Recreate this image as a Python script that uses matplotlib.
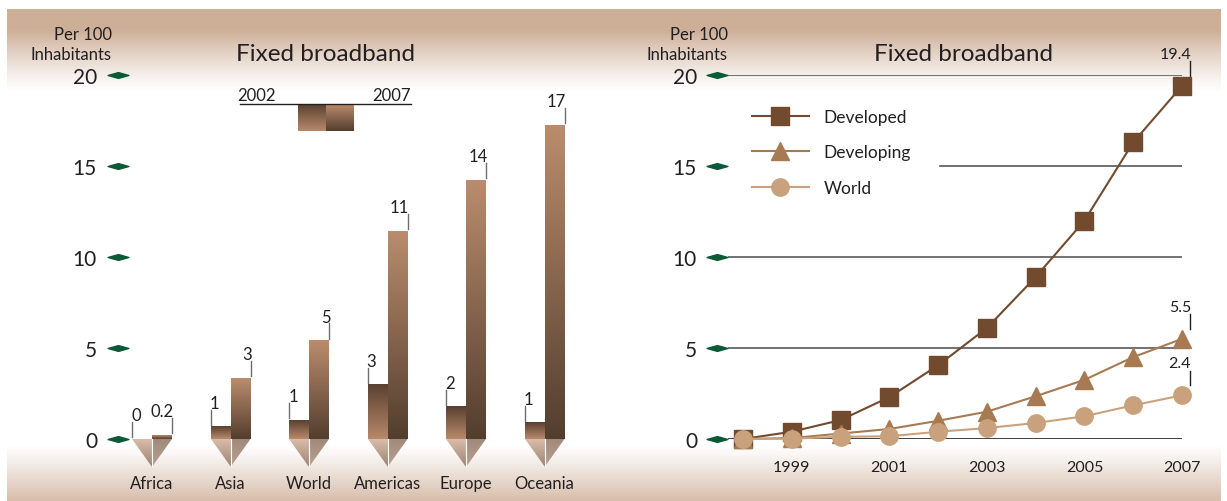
import numpy as np
import matplotlib
matplotlib.use("Agg")
import matplotlib.pyplot as plt
from matplotlib.path import Path
from matplotlib.patches import Polygon
from matplotlib.colors import to_rgb

plt.rcParams['font.family'] = ['Lato', 'DejaVu Sans']

# ---------------- data ----------------
regions = ["Africa", "Asia", "World", "Americas", "Europe", "Oceania"]
fb_2002 = [0.0, 0.66, 1.04, 2.97, 1.76, 0.88]
fb_2007 = [0.2, 3.35, 5.4, 11.4, 14.2, 17.25]
lbl_2002 = ["0", "1", "1", "3", "2", "1"]
lbl_2007 = ["0.2", "3", "5", "11", "14", "17"]

years = [1998, 1999, 2000, 2001, 2002, 2003, 2004, 2005, 2006, 2007]
developed = [0.0, 0.4, 1.04, 2.3, 4.05, 6.1, 8.9, 12.0, 16.3, 19.4]
developing = [0.0, 0.05, 0.3, 0.55, 1.0, 1.5, 2.35, 3.25, 4.5, 5.5]
world = [0.0, 0.02, 0.12, 0.15, 0.4, 0.6, 0.88, 1.25, 1.85, 2.4]
end_labels = ["19.4", "5.5", "2.4"]
series_names = ["Developed", "Developing", "World"]
xtick_years = [1999, 2001, 2003, 2005, 2007]
yticks = [0, 5, 10, 15, 20]

# ---------------- figure ----------------
W, H = 1227, 502
fig = plt.figure(figsize=(W / 100, H / 100), dpi=100)

def px_axes(left, top, right, bottom):
    return fig.add_axes([left / W, (H - bottom) / H, (right - left) / W, (bottom - top) / H])

# background bands
bg = fig.add_axes([0, 0, 1, 1], zorder=-10)
bg.set_axis_off()
img = np.ones((H, W, 3))
tan_top = np.array(to_rgb("#cdae97"))
tan_bot = np.array(to_rgb("#d8bfad"))
rows = np.arange(H)
a_top = np.clip((92 - rows) / (92 - 30), 0, 1) ** 1.2
a_top[rows < 10] = 0
a_bot = np.clip((rows - 446) / (500 - 446), 0, 1) ** 1.1
for r in range(H):
    if a_top[r] > 0:
        img[r, 7:1221] = (1 - a_top[r]) + a_top[r] * tan_top
    elif a_bot[r] > 0:
        img[r, 7:1221] = (1 - a_bot[r]) + a_bot[r] * tan_bot
bg.imshow(img, extent=(0, W, H, 0), aspect='auto', interpolation='bilinear')
bg.set_xlim(0, W)
bg.set_ylim(H, 0)

diamond = Path([(-1, 0), (0, 0.28), (1, 0), (0, -0.28), (-1, 0)],
               [Path.MOVETO, Path.LINETO, Path.LINETO, Path.LINETO, Path.CLOSEPOLY])
green = "#0b5a36"
txt = "#231f20"

def grad_img(c_top, c_bot, n=64):
    t = np.linspace(0, 1, n)[:, None]
    a, b = np.array(to_rgb(c_top)), np.array(to_rgb(c_bot))
    g = (1 - t) * a + t * b
    return g[:, None, :]

# ---------------- left chart ----------------
PX = 18.2  # px per unit
tri_depth = 28 / PX
axL = px_axes(128, 76, 580, 440 + 29)
axL.patch.set_visible(False)
ymin_L = -tri_depth - 1 / PX
axL.set_ylim(ymin_L, 20)
unit = 78.5
xminL = -(152 - 128) / unit
axL.set_xlim(xminL, xminL + 452 / unit)
for s in axL.spines.values():
    s.set_visible(False)

w = 20 / unit
x = np.arange(len(regions))
b02 = axL.bar(x - w / 2, fb_2002, w, color="#8a6650", linewidth=0)
b07 = axL.bar(x + w / 2, fb_2007, w, color="#8a6650", linewidth=0)
for patch in b02:
    x0, h = patch.get_x(), patch.get_height()
    if h > 0:
        axL.imshow(grad_img("#5a4131", "#b8896b"), extent=(x0, x0 + w, 0, h),
                   aspect='auto', clip_path=patch, zorder=3, interpolation='bilinear')
for patch in b07:
    x0, h = patch.get_x(), patch.get_height()
    if h > 0:
        axL.imshow(grad_img("#ba8c6d", "#533e2e"), extent=(x0, x0 + w, 0, h),
                   aspect='auto', clip_path=patch, zorder=3, interpolation='bilinear')

# pointed bases
for i in x:
    lp = Polygon([(i - w, 0), (i, 0), (i, -tri_depth)], closed=True,
                 transform=axL.transData, facecolor='none', edgecolor='none')
    rp = Polygon([(i, 0), (i + w, 0), (i, -tri_depth)], closed=True,
                 transform=axL.transData, facecolor='none', edgecolor='none')
    axL.add_patch(lp)
    axL.add_patch(rp)
    axL.imshow(grad_img("#d9bda9", "#9c8272"), extent=(i - w, i, -tri_depth, 0),
               aspect='auto', clip_path=lp, zorder=3, interpolation='bilinear')
    axL.imshow(grad_img("#a28a7b", "#b7a192"), extent=(i, i + w, -tri_depth, 0),
               aspect='auto', clip_path=rp, zorder=3, interpolation='bilinear')
    axL.plot([i, i], [0, -tri_depth * 0.98], color="white", lw=0.8, zorder=4)

# value labels with leader lines
lead = "#6d6e71"
for i in x:
    v = fb_2002[i]
    axL.plot([i - w, i - w], [v + 0.12, v + 0.95], color=lead, lw=1.0, zorder=4)
    axL.text(i - w - 0.01, v + 1.05, lbl_2002[i], ha='left', va='baseline',
             fontsize=12, color=txt)
    v = fb_2007[i]
    axL.plot([i + w, i + w], [v + 0.12, v + 0.95], color=lead, lw=1.0, zorder=4)
    axL.text(i + w + 0.02, v + 1.05, lbl_2007[i], ha='right', va='baseline',
             fontsize=12, color=txt)

axL.set_xticks(x)
axL.set_xticklabels(regions, fontsize=12, color=txt)
axL.set_yticks(yticks)
axL.set_yticklabels([str(t) for t in yticks], fontsize=15, color=txt)
axL.tick_params(axis='both', length=0)
axL.tick_params(axis='y', pad=(128 - 97) * 0.72)
axL.tick_params(axis='x', pad=5)
axL.plot(np.full(len(yticks), -(128 - 118) / 452), yticks, linestyle='none',
         marker=diamond, markersize=15, color=green, transform=axL.get_yaxis_transform(),
         clip_on=False)

bg.text(112, 40, "Per 100", ha='right', va='baseline', fontsize=12, color=txt)
bg.text(112, 60, "Inhabitants", ha='right', va='baseline', fontsize=12, color=txt)
bg.text(326, 61, "Fixed broadband", ha='center', va='baseline', fontsize=17.5, color=txt)

# small legend for years
bg.text(237, 101, "2002", ha='left', va='baseline', fontsize=12, color=txt)
bg.text(411, 101, "2007", ha='right', va='baseline', fontsize=12, color=txt)
bg.plot([240, 411], [105, 105], color=txt, lw=1.0)
bg.imshow(grad_img("#5a4131", "#b8896b"), extent=(298, 326, 132, 105),
          aspect='auto', interpolation='bilinear')
bg.imshow(grad_img("#ba8c6d", "#533e2e"), extent=(326, 354, 132, 105),
          aspect='auto', interpolation='bilinear')
bg.set_xlim(0, W)
bg.set_ylim(H, 0)

# ---------------- right chart ----------------
axR = px_axes(728, 76, 1182, 440)
axR.patch.set_visible(False)
axR.set_ylim(0, 20)
yr_px = (1182 - 743) / 9
xminR = 1998 - (743 - 728) / yr_px
axR.set_xlim(xminR, 2007)
for s in axR.spines.values():
    s.set_visible(False)

for t in [5, 10, 20]:
    axR.axhline(t, color="#58595b", lw=1.2, zorder=1)
axR.axhline(0, color="#231f20", lw=1.2, zorder=1)
axR.axhline(15, xmin=(940 - 728) / (1182 - 728), xmax=1, color="#58595b", lw=1.2, zorder=1)

c_dev, c_dvg, c_w = "#724b2e", "#a77a52", "#c9a27d"
l1, = axR.plot(years, developed, color=c_dev, lw=1.5, marker='s', markersize=12.5,
               clip_on=False, zorder=3)
l2, = axR.plot(years, developing, color=c_dvg, lw=1.5, marker='^', markersize=13,
               clip_on=False, zorder=4)
l3, = axR.plot(years, world, color=c_w, lw=1.5, marker='o', markersize=12.5,
               clip_on=False, zorder=5)

for ser, lab in zip([developed, developing, world], end_labels):
    v = ser[-1]
    xl = years[-1] + 8 / yr_px
    axR.plot([xl, xl], [v + 0.55, v + 1.35], color=txt, lw=1.0, clip_on=False)
    axR.text(xl + 0.02, v + 1.55, lab, ha='right', va='baseline', fontsize=11.5,
             color=txt)

axR.set_xticks(xtick_years)
axR.set_xticklabels([str(y) for y in xtick_years], fontsize=11.5, color=txt)
axR.set_yticks(yticks)
axR.set_yticklabels([str(t) for t in yticks], fontsize=15, color=txt)
axR.tick_params(axis='both', length=0)
axR.tick_params(axis='y', pad=(728 - 697) * 0.72)
axR.tick_params(axis='x', pad=15)
axR.plot(np.full(len(yticks), -(728 - 717) / 454), yticks, linestyle='none',
         marker=diamond, markersize=15, color=green, transform=axR.get_yaxis_transform(),
         clip_on=False)
bg.text(728, 40, "Per 100", ha='right', va='baseline', fontsize=12, color=txt)
bg.text(728, 60, "Inhabitants", ha='right', va='baseline', fontsize=12, color=txt)
bg.text(963, 61, "Fixed broadband", ha='center', va='baseline', fontsize=17.5, color=txt)

leg = axR.legend([l1, l2, l3], series_names, loc='upper left',
                 bbox_to_anchor=((757 - 728) / 454 - 0.012, (440 - 110) / 364),
                 frameon=False, fontsize=12.5, handlelength=3.3, handletextpad=0.85,
                 labelspacing=1.12, borderaxespad=0, borderpad=0)
for t in leg.get_texts():
    t.set_color(txt)

fig.savefig("out.png", dpi=100)
